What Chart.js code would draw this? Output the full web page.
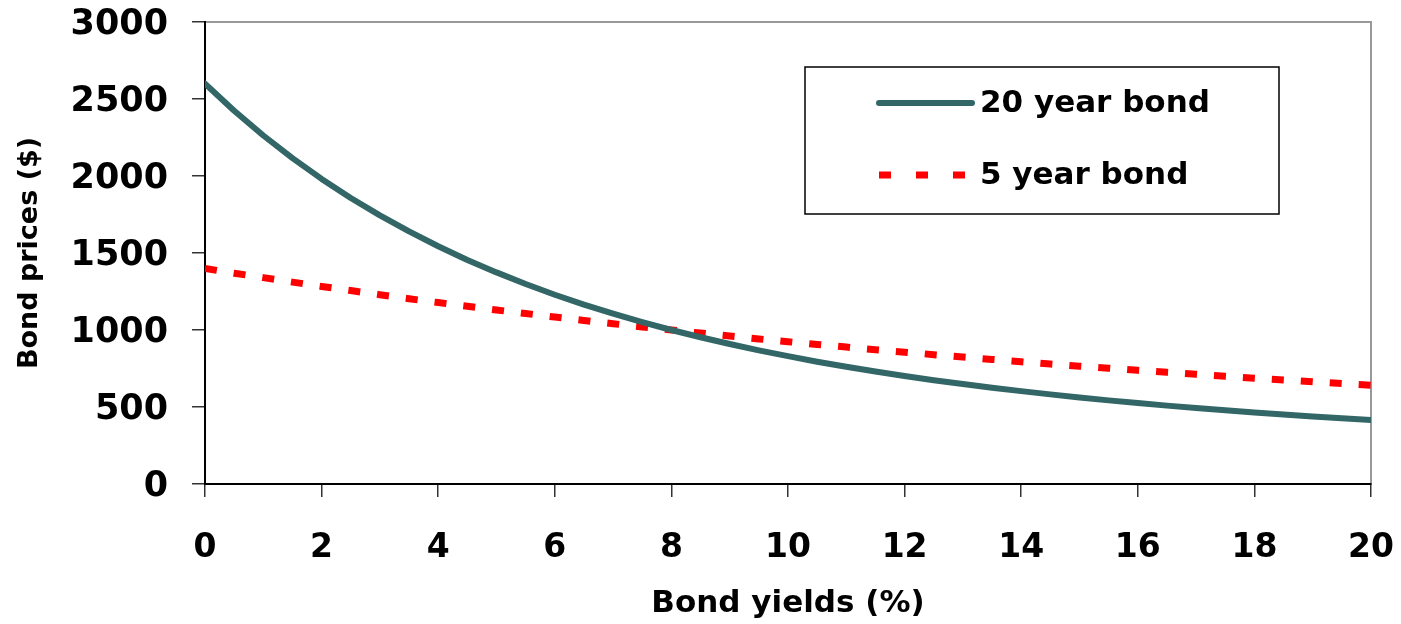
<!DOCTYPE html>
<html><head><meta charset="utf-8">
<script src="https://cdn.jsdelivr.net/npm/chart.js@4/dist/chart.umd.min.js"></script>
<style>html,body{margin:0;padding:0;background:#fff;}#wrap{width:1401px;height:624px;}</style>
</head><body><div id="wrap"><canvas id="c" width="1401" height="624"></canvas></div>
<script>
const yields = [0,0.5,1,1.5,2,2.5,3,3.5,4,4.5,5,5.5,6,6.5,7,7.5,8,8.5,9,9.5,10,10.5,11,11.5,12,12.5,13,13.5,14,14.5,15,15.5,16,16.5,17,17.5,18,18.5,19,19.5,20];
const bond20 = [2600,2424,2263,2116,1981,1857,1744,1640,1544,1455,1374,1299,1229,1165,1106,1051,1000,953,909,868,830,794,761,730,701,674,649,625,603,582,562,543,526,509,493,479,465,452,439,427,416];
const bond5 = [1400,1369,1340,1311,1283,1256,1229,1203,1178,1154,1130,1107,1084,1062,1041,1020,1000,980,961,942,924,906,889,872,856,840,824,809,794,779,765,752,738,725,712,699,687,675,664,652,641];
const seriesLabels = ['20 year bond','5 year bond'];
const xTickLabels = [0,2,4,6,8,10,12,14,16,18,20];
const yTickLabels = [0,500,1000,1500,2000,2500,3000];

const FONT = 'DejaVu Sans';

const framePlugin = {
  id: 'frame',
  beforeDraw(chart) {
    const {ctx, chartArea: a} = chart;
    ctx.save();
    ctx.strokeStyle = '#999999';
    ctx.lineWidth = 2;
    ctx.strokeRect(a.left, a.top, a.right - a.left, a.bottom - a.top);
    ctx.restore();
  }
};

const legendPlugin = {
  id: 'boxLegend',
  afterDraw(chart) {
    const {ctx, chartArea: a} = chart;
    const bx = a.left + 600, by = a.top + 45, bw = 474, bh = 147;
    ctx.save();
    ctx.fillStyle = '#fff';
    ctx.fillRect(bx, by, bw, bh);
    ctx.strokeStyle = '#000';
    ctx.lineWidth = 1.5;
    ctx.strokeRect(bx, by, bw, bh);
    const rows = [by + 36, by + 108];
    chart.data.datasets.forEach((ds, i) => {
      const y = rows[i];
      ctx.save();
      ctx.strokeStyle = ds.borderColor;
      ctx.lineWidth = ds.borderWidth;
      if (ds.borderDash && ds.borderDash.length) {
        ctx.setLineDash([12, 25]);
        ctx.lineCap = 'butt';
      } else {
        ctx.setLineDash([]);
        ctx.lineCap = 'round';
      }
      ctx.beginPath();
      ctx.moveTo(bx + 74, y);
      ctx.lineTo(bx + 167, y);
      ctx.stroke();
      ctx.restore();
      ctx.fillStyle = '#000';
      ctx.font = 'bold 31px "' + FONT + '"';
      ctx.textBaseline = 'middle';
      ctx.textAlign = 'left';
      ctx.fillText(ds.label, bx + 175, y + 1);
    });
    ctx.restore();
  }
};

new Chart(document.getElementById('c'), {
  type: 'line',
  data: {
    datasets: [
      { label: seriesLabels[0], data: yields.map((x, i) => ({x, y: bond20[i]})),
        borderColor: '#336666', borderWidth: 6, pointRadius: 0, tension: 0, fill: false,
        borderCapStyle: 'round', borderJoinStyle: 'round' },
      { label: seriesLabels[1], data: yields.map((x, i) => ({x, y: bond5[i]})),
        borderColor: '#ff0000', borderWidth: 7, borderDash: [12, 17], pointRadius: 0, tension: 0, fill: false }
    ]
  },
  options: {
    responsive: false,
    animation: false,
    devicePixelRatio: 1,
    layout: { padding: { top: 22, right: 30, left: 0, bottom: 0 } },
    plugins: { legend: { display: false }, tooltip: { enabled: false } },
    scales: {
      x: {
        type: 'linear', min: 0, max: 20,
        afterBuildTicks(s) { s.ticks = xTickLabels.map(v => ({value: v})); },
        afterFit(s) { s.height = 140; s.paddingLeft = 0; s.paddingRight = 0; },
        ticks: { color: '#000', font: { family: FONT, size: 33, weight: 'bold' }, padding: 32, maxRotation: 0, autoSkip: false, callback: v => String(v) },
        grid: { drawOnChartArea: false, drawTicks: true, tickLength: 13, color: '#333', lineWidth: 1.5 },
        border: { display: true, color: '#000', width: 2 },
        title: { display: true, text: 'Bond yields (%)', color: '#000', font: { family: FONT, size: 31, weight: 'bold' }, padding: { top: 0, bottom: 1 } }
      },
      y: {
        type: 'linear', min: 0, max: 3000,
        afterBuildTicks(s) { s.ticks = yTickLabels.map(v => ({value: v})); },
        afterFit(s) { s.width = 205; s.paddingTop = 0; s.paddingBottom = 0; },
        ticks: { color: '#000', font: { family: FONT, size: 35, weight: 'bold' }, padding: 24, labelOffset: 3, autoSkip: false, callback: v => String(v) },
        grid: { drawOnChartArea: false, drawTicks: true, tickLength: 13, color: '#333', lineWidth: 1.5 },
        border: { display: true, color: '#000', width: 2 },
        title: { display: true, text: 'Bond prices ($)', color: '#000', font: { family: FONT, size: 27, weight: 'bold' }, padding: { top: 14, bottom: 0 } }
      }
    }
  },
  plugins: [framePlugin, legendPlugin]
});
</script>
</body></html>
